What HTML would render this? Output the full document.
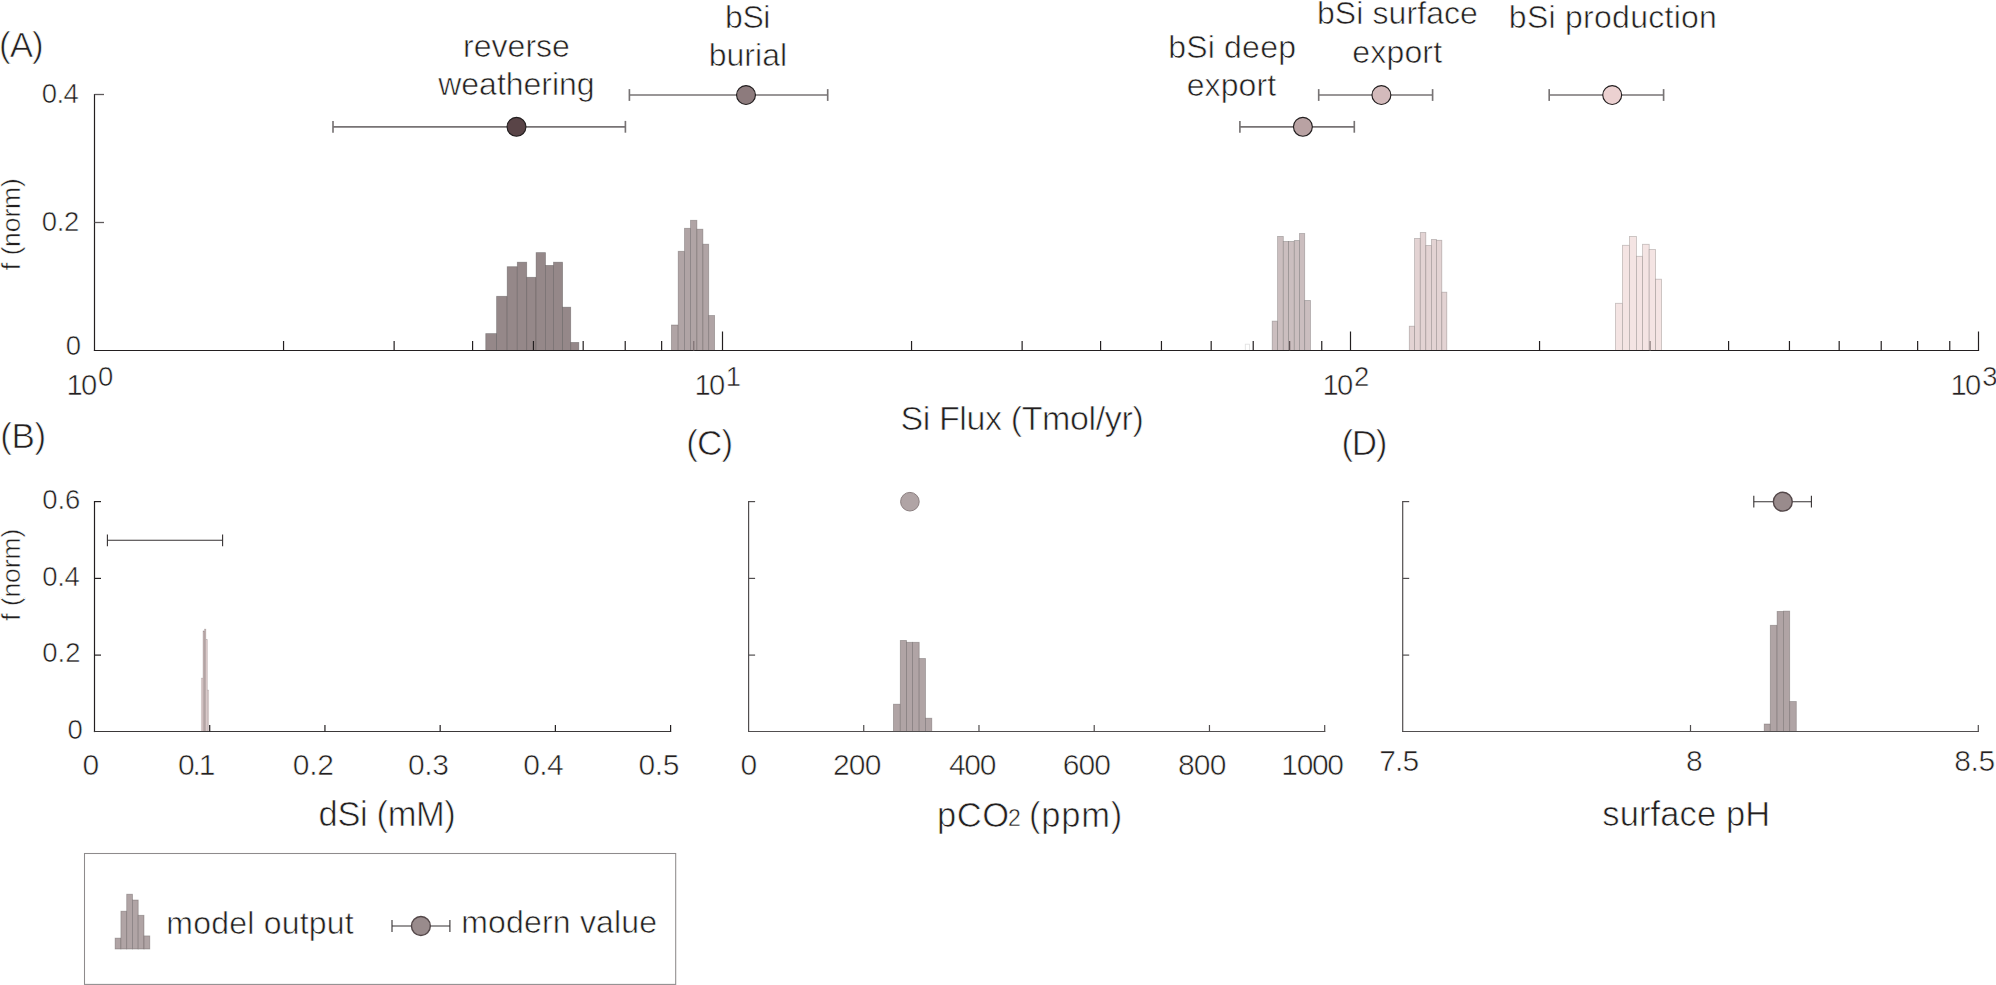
<!DOCTYPE html>
<html lang="en"><head><meta charset="utf-8"><title>Si flux figure</title>
<style>
html,body{margin:0;padding:0;background:#fff;}
body{width:1996px;height:985px;overflow:hidden;font-family:"Liberation Sans",Arial,Helvetica,sans-serif;}
svg{display:block;}
svg text{font-family:"Liberation Sans",Arial,Helvetica,sans-serif;font-kerning:none;white-space:pre;stroke:#ffffff;stroke-linejoin:round;}
</style></head><body>
<svg width="1996" height="985" viewBox="0 0 1996 985" font-family="'Liberation Sans', Arial, Helvetica, sans-serif" fill="#231f20">
<rect x="0" y="0" width="1996" height="985" fill="#ffffff"/>
<rect x="485.75" y="333.60" width="10.85" height="16.90" fill="#958889" stroke="#4a4444" stroke-width="0.8" stroke-opacity="0.42"/>
<rect x="496.60" y="296.30" width="10.60" height="54.20" fill="#958889" stroke="#4a4444" stroke-width="0.8" stroke-opacity="0.42"/>
<rect x="507.20" y="266.70" width="10.10" height="83.80" fill="#958889" stroke="#4a4444" stroke-width="0.8" stroke-opacity="0.42"/>
<rect x="517.30" y="262.20" width="9.40" height="88.30" fill="#958889" stroke="#4a4444" stroke-width="0.8" stroke-opacity="0.42"/>
<rect x="526.70" y="277.30" width="9.40" height="73.20" fill="#958889" stroke="#4a4444" stroke-width="0.8" stroke-opacity="0.42"/>
<rect x="536.10" y="252.60" width="9.40" height="97.90" fill="#958889" stroke="#4a4444" stroke-width="0.8" stroke-opacity="0.42"/>
<rect x="545.50" y="265.40" width="8.00" height="85.10" fill="#958889" stroke="#4a4444" stroke-width="0.8" stroke-opacity="0.42"/>
<rect x="553.50" y="262.20" width="9.10" height="88.30" fill="#958889" stroke="#4a4444" stroke-width="0.8" stroke-opacity="0.42"/>
<rect x="562.60" y="307.20" width="8.10" height="43.30" fill="#958889" stroke="#4a4444" stroke-width="0.8" stroke-opacity="0.42"/>
<rect x="570.70" y="342.40" width="8.10" height="8.10" fill="#958889" stroke="#4a4444" stroke-width="0.8" stroke-opacity="0.42"/>
<rect x="671.40" y="325.00" width="6.80" height="25.50" fill="#b0a4a5" stroke="#585252" stroke-width="0.8" stroke-opacity="0.42"/>
<rect x="678.20" y="251.30" width="6.30" height="99.20" fill="#b0a4a5" stroke="#585252" stroke-width="0.8" stroke-opacity="0.42"/>
<rect x="684.50" y="228.30" width="6.00" height="122.20" fill="#b0a4a5" stroke="#585252" stroke-width="0.8" stroke-opacity="0.42"/>
<rect x="690.50" y="220.30" width="6.40" height="130.20" fill="#b0a4a5" stroke="#585252" stroke-width="0.8" stroke-opacity="0.42"/>
<rect x="696.90" y="229.20" width="6.00" height="121.30" fill="#b0a4a5" stroke="#585252" stroke-width="0.8" stroke-opacity="0.42"/>
<rect x="702.90" y="244.20" width="5.80" height="106.30" fill="#b0a4a5" stroke="#585252" stroke-width="0.8" stroke-opacity="0.42"/>
<rect x="708.70" y="315.50" width="5.90" height="35.00" fill="#b0a4a5" stroke="#585252" stroke-width="0.8" stroke-opacity="0.42"/>
<rect x="1245.30" y="344.20" width="4.20" height="6.30" fill="#ffffff" stroke="#b2b2b2" stroke-width="0.8" stroke-opacity="0.42"/>
<rect x="1272.20" y="321.10" width="5.40" height="29.40" fill="#cbbebf" stroke="#655f5f" stroke-width="0.8" stroke-opacity="0.42"/>
<rect x="1277.60" y="236.40" width="5.70" height="114.10" fill="#cbbebf" stroke="#655f5f" stroke-width="0.8" stroke-opacity="0.42"/>
<rect x="1283.30" y="241.40" width="5.30" height="109.10" fill="#cbbebf" stroke="#655f5f" stroke-width="0.8" stroke-opacity="0.42"/>
<rect x="1288.60" y="241.40" width="5.70" height="109.10" fill="#cbbebf" stroke="#655f5f" stroke-width="0.8" stroke-opacity="0.42"/>
<rect x="1294.30" y="240.40" width="5.20" height="110.10" fill="#cbbebf" stroke="#655f5f" stroke-width="0.8" stroke-opacity="0.42"/>
<rect x="1299.50" y="233.50" width="5.20" height="117.00" fill="#cbbebf" stroke="#655f5f" stroke-width="0.8" stroke-opacity="0.42"/>
<rect x="1304.70" y="300.40" width="5.80" height="50.10" fill="#cbbebf" stroke="#655f5f" stroke-width="0.8" stroke-opacity="0.42"/>
<rect x="1409.30" y="326.20" width="5.30" height="24.30" fill="#e3d3d3" stroke="#716969" stroke-width="0.8" stroke-opacity="0.42"/>
<rect x="1414.60" y="238.50" width="5.70" height="112.00" fill="#e3d3d3" stroke="#716969" stroke-width="0.8" stroke-opacity="0.42"/>
<rect x="1420.30" y="232.50" width="5.50" height="118.00" fill="#e3d3d3" stroke="#716969" stroke-width="0.8" stroke-opacity="0.42"/>
<rect x="1425.80" y="245.50" width="5.60" height="105.00" fill="#e3d3d3" stroke="#716969" stroke-width="0.8" stroke-opacity="0.42"/>
<rect x="1431.40" y="239.50" width="5.00" height="111.00" fill="#e3d3d3" stroke="#716969" stroke-width="0.8" stroke-opacity="0.42"/>
<rect x="1436.40" y="240.30" width="5.40" height="110.20" fill="#e3d3d3" stroke="#716969" stroke-width="0.8" stroke-opacity="0.42"/>
<rect x="1441.80" y="292.20" width="5.00" height="58.30" fill="#e3d3d3" stroke="#716969" stroke-width="0.8" stroke-opacity="0.42"/>
<rect x="1615.50" y="303.30" width="6.90" height="47.20" fill="#f4e4e3" stroke="#7a7271" stroke-width="0.8" stroke-opacity="0.42"/>
<rect x="1622.40" y="245.30" width="7.00" height="105.20" fill="#f4e4e3" stroke="#7a7271" stroke-width="0.8" stroke-opacity="0.42"/>
<rect x="1629.40" y="236.40" width="7.00" height="114.10" fill="#f4e4e3" stroke="#7a7271" stroke-width="0.8" stroke-opacity="0.42"/>
<rect x="1636.40" y="256.30" width="6.20" height="94.20" fill="#f4e4e3" stroke="#7a7271" stroke-width="0.8" stroke-opacity="0.42"/>
<rect x="1642.60" y="244.30" width="6.60" height="106.20" fill="#f4e4e3" stroke="#7a7271" stroke-width="0.8" stroke-opacity="0.42"/>
<rect x="1649.20" y="249.50" width="6.40" height="101.00" fill="#f4e4e3" stroke="#7a7271" stroke-width="0.8" stroke-opacity="0.42"/>
<rect x="1655.60" y="279.20" width="6.00" height="71.30" fill="#f4e4e3" stroke="#7a7271" stroke-width="0.8" stroke-opacity="0.42"/>
<line x1="94.50" y1="93.90" x2="94.50" y2="351.10" stroke="#231f20" stroke-width="1.2" />
<line x1="93.90" y1="350.50" x2="1979.10" y2="350.50" stroke="#231f20" stroke-width="1.2" />
<line x1="94.50" y1="94.50" x2="104.00" y2="94.50" stroke="#5f5b5c" stroke-width="1.3" />
<line x1="94.50" y1="222.50" x2="104.00" y2="222.50" stroke="#5f5b5c" stroke-width="1.3" />
<line x1="283.55" y1="350.50" x2="283.55" y2="341.00" stroke="#231f20" stroke-width="1.2" />
<line x1="394.13" y1="350.50" x2="394.13" y2="341.00" stroke="#231f20" stroke-width="1.2" />
<line x1="472.59" y1="350.50" x2="472.59" y2="341.00" stroke="#231f20" stroke-width="1.2" />
<line x1="533.45" y1="350.50" x2="533.45" y2="341.00" stroke="#231f20" stroke-width="1.2" />
<line x1="583.18" y1="350.50" x2="583.18" y2="341.00" stroke="#231f20" stroke-width="1.2" />
<line x1="625.22" y1="350.50" x2="625.22" y2="341.00" stroke="#231f20" stroke-width="1.2" />
<line x1="661.64" y1="350.50" x2="661.64" y2="341.00" stroke="#231f20" stroke-width="1.2" />
<line x1="693.76" y1="350.50" x2="693.76" y2="341.00" stroke="#7d7072" stroke-width="1.2" />
<line x1="722.50" y1="350.50" x2="722.50" y2="331.50" stroke="#231f20" stroke-width="1.2" />
<line x1="911.55" y1="350.50" x2="911.55" y2="341.00" stroke="#231f20" stroke-width="1.2" />
<line x1="1022.13" y1="350.50" x2="1022.13" y2="341.00" stroke="#231f20" stroke-width="1.2" />
<line x1="1100.59" y1="350.50" x2="1100.59" y2="341.00" stroke="#231f20" stroke-width="1.2" />
<line x1="1161.45" y1="350.50" x2="1161.45" y2="341.00" stroke="#231f20" stroke-width="1.2" />
<line x1="1211.18" y1="350.50" x2="1211.18" y2="341.00" stroke="#231f20" stroke-width="1.2" />
<line x1="1253.22" y1="350.50" x2="1253.22" y2="341.00" stroke="#231f20" stroke-width="1.2" />
<line x1="1289.64" y1="350.50" x2="1289.64" y2="341.00" stroke="#5c5052" stroke-width="1.2" />
<line x1="1321.76" y1="350.50" x2="1321.76" y2="341.00" stroke="#231f20" stroke-width="1.2" />
<line x1="1350.50" y1="350.50" x2="1350.50" y2="331.50" stroke="#231f20" stroke-width="1.2" />
<line x1="1539.55" y1="350.50" x2="1539.55" y2="341.00" stroke="#231f20" stroke-width="1.2" />
<line x1="1650.13" y1="350.50" x2="1650.13" y2="341.00" stroke="#8a7d7d" stroke-width="1.2" />
<line x1="1728.59" y1="350.50" x2="1728.59" y2="341.00" stroke="#231f20" stroke-width="1.2" />
<line x1="1789.45" y1="350.50" x2="1789.45" y2="341.00" stroke="#231f20" stroke-width="1.2" />
<line x1="1839.18" y1="350.50" x2="1839.18" y2="341.00" stroke="#231f20" stroke-width="1.2" />
<line x1="1881.22" y1="350.50" x2="1881.22" y2="341.00" stroke="#231f20" stroke-width="1.2" />
<line x1="1917.64" y1="350.50" x2="1917.64" y2="341.00" stroke="#231f20" stroke-width="1.2" />
<line x1="1949.76" y1="350.50" x2="1949.76" y2="341.00" stroke="#231f20" stroke-width="1.2" />
<line x1="1978.50" y1="350.50" x2="1978.50" y2="331.50" stroke="#231f20" stroke-width="1.2" />
<text x="41.76" y="102.76" font-size="27.50" letter-spacing="-0.613" stroke-width="0.52" >0.4</text>
<text x="41.76" y="230.96" font-size="27.50" letter-spacing="-0.324" stroke-width="0.52" >0.2</text>
<text x="65.70" y="355.26" font-size="27.50" letter-spacing="0.000" stroke-width="0.52" >0</text>
<text transform="translate(19.85,269.50) rotate(-90)" x="-0.63" y="0" font-size="26.50" letter-spacing="-0.104" stroke-width="0.50">f (norm)</text>
<text x="66.40" y="395.18" font-size="29.20" letter-spacing="-1.660" stroke-width="0.55" >10</text>
<text x="98.10" y="385.96" font-size="27.50" letter-spacing="0.000" stroke-width="0.52" >0</text>
<text x="694.40" y="395.18" font-size="29.20" letter-spacing="-1.660" stroke-width="0.55" >10</text>
<text x="725.63" y="385.96" font-size="27.50" letter-spacing="0.000" stroke-width="0.52" >1</text>
<text x="1322.40" y="395.18" font-size="29.20" letter-spacing="-1.660" stroke-width="0.55" >10</text>
<text x="1354.10" y="385.96" font-size="27.50" letter-spacing="0.000" stroke-width="0.52" >2</text>
<text x="1950.40" y="395.18" font-size="29.20" letter-spacing="-1.660" stroke-width="0.55" >10</text>
<text x="1982.18" y="385.96" font-size="27.50" letter-spacing="0.000" stroke-width="0.52" >3</text>
<text x="900.43" y="429.52" font-size="34.00" letter-spacing="-0.376" stroke-width="0.65" >Si Flux (Tmol/yr)</text>
<text x="-1.00" y="57.13" font-size="35.00" letter-spacing="-1.025" stroke-width="0.67" >(A)</text>
<text x="463.07" y="57.30" font-size="32.00" letter-spacing="0.025" stroke-width="0.61" >reverse</text>
<text x="438.24" y="95.00" font-size="32.00" letter-spacing="-0.014" stroke-width="0.61" >weathering</text>
<text x="725.03" y="27.60" font-size="32.00" letter-spacing="-0.412" stroke-width="0.61" >bSi</text>
<text x="708.63" y="65.90" font-size="32.00" letter-spacing="0.049" stroke-width="0.61" >burial</text>
<text x="1168.13" y="58.00" font-size="32.00" letter-spacing="0.212" stroke-width="0.61" >bSi deep</text>
<text x="1186.64" y="96.10" font-size="32.00" letter-spacing="0.113" stroke-width="0.61" >export</text>
<text x="1316.93" y="24.40" font-size="32.00" letter-spacing="0.091" stroke-width="0.61" >bSi surface</text>
<text x="1352.34" y="62.90" font-size="32.00" letter-spacing="0.153" stroke-width="0.61" >export</text>
<text x="1508.83" y="28.20" font-size="32.00" letter-spacing="0.267" stroke-width="0.61" >bSi production</text>
<line x1="333.00" y1="126.80" x2="625.40" y2="126.80" stroke="#777374" stroke-width="1.65" />
<line x1="333.00" y1="120.90" x2="333.00" y2="132.70" stroke="#777374" stroke-width="1.65" />
<line x1="625.40" y1="120.90" x2="625.40" y2="132.70" stroke="#777374" stroke-width="1.65" />
<circle cx="516.50" cy="126.80" r="9.45" fill="#594447" stroke="#231f20" stroke-width="1.15"/>
<line x1="629.40" y1="95.00" x2="827.70" y2="95.00" stroke="#777374" stroke-width="1.65" />
<line x1="629.40" y1="89.10" x2="629.40" y2="100.90" stroke="#777374" stroke-width="1.65" />
<line x1="827.70" y1="89.10" x2="827.70" y2="100.90" stroke="#777374" stroke-width="1.65" />
<circle cx="746.00" cy="95.00" r="9.45" fill="#8d7b7d" stroke="#231f20" stroke-width="1.15"/>
<line x1="1239.90" y1="126.80" x2="1354.30" y2="126.80" stroke="#777374" stroke-width="1.65" />
<line x1="1239.90" y1="120.90" x2="1239.90" y2="132.70" stroke="#777374" stroke-width="1.65" />
<line x1="1354.30" y1="120.90" x2="1354.30" y2="132.70" stroke="#777374" stroke-width="1.65" />
<circle cx="1302.90" cy="126.80" r="9.45" fill="#b9a2a3" stroke="#231f20" stroke-width="1.15"/>
<line x1="1318.70" y1="95.00" x2="1432.60" y2="95.00" stroke="#777374" stroke-width="1.65" />
<line x1="1318.70" y1="89.10" x2="1318.70" y2="100.90" stroke="#777374" stroke-width="1.65" />
<line x1="1432.60" y1="89.10" x2="1432.60" y2="100.90" stroke="#777374" stroke-width="1.65" />
<circle cx="1381.40" cy="95.00" r="9.45" fill="#d3babb" stroke="#231f20" stroke-width="1.15"/>
<line x1="1549.20" y1="95.00" x2="1663.60" y2="95.00" stroke="#777374" stroke-width="1.65" />
<line x1="1549.20" y1="89.10" x2="1549.20" y2="100.90" stroke="#777374" stroke-width="1.65" />
<line x1="1663.60" y1="89.10" x2="1663.60" y2="100.90" stroke="#777374" stroke-width="1.65" />
<circle cx="1612.20" cy="95.00" r="9.45" fill="#ecd1d1" stroke="#231f20" stroke-width="1.15"/>
<rect x="201.20" y="678.10" width="1.80" height="53.40" fill="#ead9d9" stroke="#756c6c" stroke-width="0.5" stroke-opacity="0.42"/>
<rect x="205.90" y="639.70" width="1.60" height="91.80" fill="#ead9d9" stroke="#756c6c" stroke-width="0.5" stroke-opacity="0.42"/>
<rect x="207.50" y="690.10" width="1.30" height="41.40" fill="#ead9d9" stroke="#756c6c" stroke-width="0.5" stroke-opacity="0.42"/>
<rect x="203.00" y="630.90" width="1.60" height="100.60" fill="#c9b7b7" stroke="#645b5b" stroke-width="0.5" stroke-opacity="0.42"/>
<rect x="204.60" y="629.10" width="1.30" height="102.40" fill="#c9b7b7" stroke="#645b5b" stroke-width="0.5" stroke-opacity="0.42"/>
<line x1="94.50" y1="501.00" x2="94.50" y2="732.10" stroke="#231f20" stroke-width="1.2" />
<line x1="94.50" y1="501.60" x2="101.00" y2="501.60" stroke="#231f20" stroke-width="1.2" />
<line x1="94.50" y1="578.40" x2="101.00" y2="578.40" stroke="#231f20" stroke-width="1.2" />
<line x1="94.50" y1="655.10" x2="101.00" y2="655.10" stroke="#231f20" stroke-width="1.2" />
<line x1="93.90" y1="731.50" x2="671.20" y2="731.50" stroke="#3a3738" stroke-width="1.2" />
<line x1="209.72" y1="731.50" x2="209.72" y2="725.00" stroke="#231f20" stroke-width="1.2" />
<line x1="324.94" y1="731.50" x2="324.94" y2="725.00" stroke="#231f20" stroke-width="1.2" />
<line x1="440.16" y1="731.50" x2="440.16" y2="725.00" stroke="#231f20" stroke-width="1.2" />
<line x1="555.38" y1="731.50" x2="555.38" y2="725.00" stroke="#231f20" stroke-width="1.2" />
<line x1="670.60" y1="731.50" x2="670.60" y2="725.00" stroke="#231f20" stroke-width="1.2" />
<text x="42.26" y="509.26" font-size="27.50" letter-spacing="-0.112" stroke-width="0.52" >0.6</text>
<text x="42.26" y="585.86" font-size="27.50" letter-spacing="-0.313" stroke-width="0.52" >0.4</text>
<text x="42.26" y="662.06" font-size="27.50" letter-spacing="-0.024" stroke-width="0.52" >0.2</text>
<text x="67.60" y="738.96" font-size="27.50" letter-spacing="0.000" stroke-width="0.52" >0</text>
<text transform="translate(19.85,620.20) rotate(-90)" x="-0.63" y="0" font-size="26.50" letter-spacing="-0.090" stroke-width="0.50">f (norm)</text>
<text x="82.51" y="775.08" font-size="30.00" letter-spacing="0.000" stroke-width="0.57" >0</text>
<text x="178.04" y="775.08" font-size="30.00" letter-spacing="-2.099" stroke-width="0.57" >0.1</text>
<text x="292.84" y="775.08" font-size="30.00" letter-spacing="-0.277" stroke-width="0.57" >0.2</text>
<text x="408.04" y="775.08" font-size="30.00" letter-spacing="-0.372" stroke-width="0.57" >0.3</text>
<text x="523.24" y="775.08" font-size="30.00" letter-spacing="-0.592" stroke-width="0.57" >0.4</text>
<text x="638.44" y="775.08" font-size="30.00" letter-spacing="-0.401" stroke-width="0.57" >0.5</text>
<text x="318.62" y="826.23" font-size="34.50" letter-spacing="-0.380" stroke-width="0.66" >dSi (mM)</text>
<text x="0.20" y="447.83" font-size="35.00" letter-spacing="-0.375" stroke-width="0.67" >(B)</text>
<line x1="107.40" y1="540.30" x2="222.60" y2="540.30" stroke="#353132" stroke-width="1.1" />
<line x1="107.40" y1="534.40" x2="107.40" y2="546.20" stroke="#353132" stroke-width="1.1" />
<line x1="222.60" y1="534.40" x2="222.60" y2="546.20" stroke="#353132" stroke-width="1.1" />
<rect x="893.40" y="704.20" width="6.90" height="27.30" fill="#b0a4a5" stroke="#585252" stroke-width="0.8" stroke-opacity="0.42"/>
<rect x="900.30" y="640.40" width="6.30" height="91.10" fill="#b0a4a5" stroke="#585252" stroke-width="0.8" stroke-opacity="0.42"/>
<rect x="906.60" y="642.30" width="6.00" height="89.20" fill="#b0a4a5" stroke="#585252" stroke-width="0.8" stroke-opacity="0.42"/>
<rect x="912.60" y="642.30" width="6.60" height="89.20" fill="#b0a4a5" stroke="#585252" stroke-width="0.8" stroke-opacity="0.42"/>
<rect x="919.20" y="658.50" width="6.30" height="73.00" fill="#b0a4a5" stroke="#585252" stroke-width="0.8" stroke-opacity="0.42"/>
<rect x="925.50" y="718.20" width="6.30" height="13.30" fill="#b0a4a5" stroke="#585252" stroke-width="0.8" stroke-opacity="0.42"/>
<line x1="748.60" y1="501.00" x2="748.60" y2="732.10" stroke="#514e4f" stroke-width="1.2" />
<line x1="748.60" y1="501.60" x2="755.10" y2="501.60" stroke="#514e4f" stroke-width="1.2" />
<line x1="748.60" y1="578.40" x2="755.10" y2="578.40" stroke="#514e4f" stroke-width="1.2" />
<line x1="748.60" y1="655.10" x2="755.10" y2="655.10" stroke="#514e4f" stroke-width="1.2" />
<line x1="748.00" y1="731.50" x2="1325.30" y2="731.50" stroke="#514e4f" stroke-width="1.2" />
<line x1="863.74" y1="731.50" x2="863.74" y2="725.00" stroke="#514e4f" stroke-width="1.2" />
<line x1="978.98" y1="731.50" x2="978.98" y2="725.00" stroke="#514e4f" stroke-width="1.2" />
<line x1="1094.22" y1="731.50" x2="1094.22" y2="725.00" stroke="#514e4f" stroke-width="1.2" />
<line x1="1209.46" y1="731.50" x2="1209.46" y2="725.00" stroke="#514e4f" stroke-width="1.2" />
<line x1="1324.70" y1="731.50" x2="1324.70" y2="725.00" stroke="#514e4f" stroke-width="1.2" />
<text x="740.61" y="775.08" font-size="30.00" letter-spacing="0.000" stroke-width="0.57" >0</text>
<text x="832.91" y="775.08" font-size="30.00" letter-spacing="-0.752" stroke-width="0.57" >200</text>
<text x="948.93" y="775.08" font-size="30.00" letter-spacing="-1.262" stroke-width="0.57" >400</text>
<text x="1062.79" y="775.08" font-size="30.00" letter-spacing="-0.894" stroke-width="0.57" >600</text>
<text x="1177.91" y="775.08" font-size="30.00" letter-spacing="-0.804" stroke-width="0.57" >800</text>
<text x="1281.33" y="775.08" font-size="30.00" letter-spacing="-1.337" stroke-width="0.57" >1000</text>
<text x="937.05" y="826.53" font-size="34.50" letter-spacing="0.546" stroke-width="0.66" >pCO</text>
<text x="1008.00" y="826.42" font-size="23.00" letter-spacing="0.000" stroke-width="0.44" >2</text>
<text x="1029.03" y="826.53" font-size="34.50" letter-spacing="0.761" stroke-width="0.66" >(ppm)</text>
<text x="686.30" y="455.33" font-size="35.00" letter-spacing="-0.890" stroke-width="0.67" >(C)</text>
<circle cx="909.9" cy="501.7" r="9.3" fill="#b0a4a5" stroke="#8b7f80" stroke-width="1"/>
<rect x="1764.20" y="724.00" width="6.10" height="7.50" fill="#b0a4a5" stroke="#585252" stroke-width="0.8" stroke-opacity="0.42"/>
<rect x="1770.30" y="625.30" width="6.80" height="106.20" fill="#b0a4a5" stroke="#585252" stroke-width="0.8" stroke-opacity="0.42"/>
<rect x="1777.10" y="611.40" width="6.30" height="120.10" fill="#b0a4a5" stroke="#585252" stroke-width="0.8" stroke-opacity="0.42"/>
<rect x="1783.40" y="611.10" width="6.30" height="120.40" fill="#b0a4a5" stroke="#585252" stroke-width="0.8" stroke-opacity="0.42"/>
<rect x="1789.70" y="701.50" width="6.60" height="30.00" fill="#b0a4a5" stroke="#585252" stroke-width="0.8" stroke-opacity="0.42"/>
<line x1="1402.70" y1="501.00" x2="1402.70" y2="732.10" stroke="#514e4f" stroke-width="1.2" />
<line x1="1402.70" y1="501.60" x2="1409.20" y2="501.60" stroke="#514e4f" stroke-width="1.2" />
<line x1="1402.70" y1="578.40" x2="1409.20" y2="578.40" stroke="#514e4f" stroke-width="1.2" />
<line x1="1402.70" y1="655.10" x2="1409.20" y2="655.10" stroke="#514e4f" stroke-width="1.2" />
<line x1="1402.10" y1="731.50" x2="1978.90" y2="731.50" stroke="#514e4f" stroke-width="1.2" />
<line x1="1690.50" y1="731.50" x2="1690.50" y2="725.00" stroke="#514e4f" stroke-width="1.2" />
<line x1="1978.30" y1="731.50" x2="1978.30" y2="725.00" stroke="#514e4f" stroke-width="1.2" />
<text x="1379.18" y="771.08" font-size="30.00" letter-spacing="-0.818" stroke-width="0.57" >7.5</text>
<text x="1685.96" y="771.08" font-size="30.00" letter-spacing="0.000" stroke-width="0.57" >8</text>
<text x="1954.31" y="771.08" font-size="30.00" letter-spacing="-0.435" stroke-width="0.57" >8.5</text>
<text x="1602.31" y="826.33" font-size="34.50" letter-spacing="0.123" stroke-width="0.66" >surface pH</text>
<text x="1341.50" y="455.33" font-size="35.00" letter-spacing="-1.290" stroke-width="0.67" >(D)</text>
<line x1="1753.80" y1="501.70" x2="1811.40" y2="501.70" stroke="#353132" stroke-width="1.1" />
<line x1="1753.80" y1="495.80" x2="1753.80" y2="507.60" stroke="#353132" stroke-width="1.1" />
<line x1="1811.40" y1="495.80" x2="1811.40" y2="507.60" stroke="#353132" stroke-width="1.1" />
<circle cx="1782.80" cy="501.70" r="9.45" fill="#998b8c" stroke="#54484a" stroke-width="1.4"/>
<rect x="84.5" y="853.5" width="591.2" height="130.9" fill="none" stroke="#8e8b8c" stroke-width="1.05"/>
<rect x="115.10" y="938.10" width="5.80" height="10.90" fill="#b0a4a5" stroke="#585252" stroke-width="0.8" stroke-opacity="0.42"/>
<rect x="120.90" y="911.20" width="5.80" height="37.80" fill="#b0a4a5" stroke="#585252" stroke-width="0.8" stroke-opacity="0.42"/>
<rect x="126.70" y="894.20" width="5.80" height="54.80" fill="#b0a4a5" stroke="#585252" stroke-width="0.8" stroke-opacity="0.42"/>
<rect x="132.50" y="900.00" width="5.70" height="49.00" fill="#b0a4a5" stroke="#585252" stroke-width="0.8" stroke-opacity="0.42"/>
<rect x="138.20" y="915.30" width="5.80" height="33.70" fill="#b0a4a5" stroke="#585252" stroke-width="0.8" stroke-opacity="0.42"/>
<rect x="144.00" y="935.90" width="5.80" height="13.10" fill="#b0a4a5" stroke="#585252" stroke-width="0.8" stroke-opacity="0.42"/>
<text x="166.37" y="934.10" font-size="32.00" letter-spacing="0.205" stroke-width="0.61" >model output</text>
<line x1="392.00" y1="926.00" x2="449.90" y2="926.00" stroke="#353132" stroke-width="1.1" />
<line x1="392.00" y1="920.10" x2="392.00" y2="931.90" stroke="#353132" stroke-width="1.1" />
<line x1="449.90" y1="920.10" x2="449.90" y2="931.90" stroke="#353132" stroke-width="1.1" />
<circle cx="420.90" cy="926.00" r="9.45" fill="#998b8c" stroke="#54484a" stroke-width="1.4"/>
<text x="461.27" y="932.80" font-size="32.00" letter-spacing="0.179" stroke-width="0.61" >modern value</text>
</svg>
</body></html>
